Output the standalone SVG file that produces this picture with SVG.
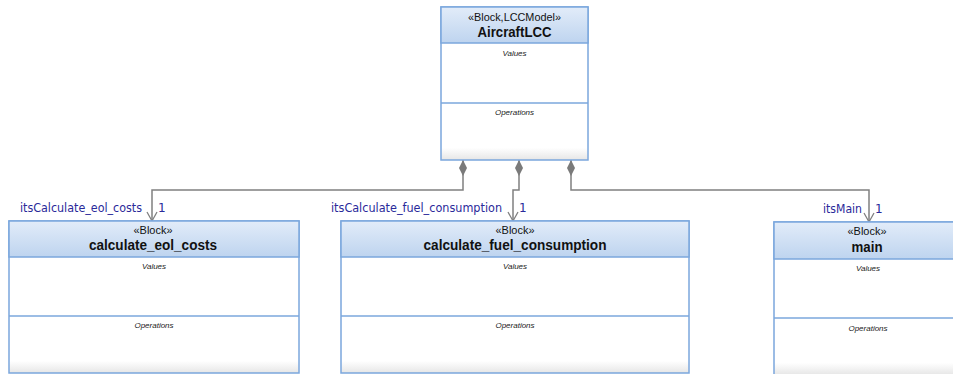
<svg xmlns="http://www.w3.org/2000/svg" width="953" height="374" viewBox="0 0 953 374">
  <defs>
    <linearGradient id="hdr" x1="0" y1="0" x2="0" y2="1">
      <stop offset="0" stop-color="#e2ecf9"/>
      <stop offset="1" stop-color="#bed4ef"/>
    </linearGradient>
    <linearGradient id="ops" x1="0" y1="0" x2="0" y2="1">
      <stop offset="0" stop-color="#ffffff"/>
      <stop offset="0.92" stop-color="#ffffff"/>
      <stop offset="1" stop-color="#e6e6e6"/>
    </linearGradient>
    <marker id="diamond" markerWidth="18" markerHeight="10" refX="0" refY="5" orient="auto" markerUnits="userSpaceOnUse" viewBox="0 0 18 10">
      <path d="M0,5 L8,1 L16,5 L8,9 Z" fill="#7a7a7a"/>
    </marker>
    <marker id="open" markerWidth="12" markerHeight="12" refX="10" refY="6" orient="auto" markerUnits="userSpaceOnUse" viewBox="0 0 12 12">
      <path d="M1,1 L10,6 L1,11" fill="none" stroke="#808080" stroke-width="1.3"/>
    </marker>
  </defs>
  <style>
    .box { fill: #ffffff; stroke: #7ba7dd; stroke-width: 1.5; }
    .hdr { fill: url(#hdr); stroke: #7ba7dd; stroke-width: 1.5; }
    .ops { fill: url(#ops); stroke: #7ba7dd; stroke-width: 1.5; }
    .div { stroke: #7ba7dd; stroke-width: 1.5; }
    .st { font-family: "Liberation Sans", Arial, sans-serif; font-size: 11px; fill: #111; text-anchor: middle; }
    .nm { font-family: "Liberation Sans", Arial, sans-serif; font-size: 14px; font-weight: bold; fill: #111; text-anchor: middle; }
    .sec { font-family: "Liberation Sans", Arial, sans-serif; font-size: 8px; font-style: italic; fill: #222; text-anchor: middle; }
    .lbl { font-family: "DejaVu Sans", sans-serif; font-size: 12px; fill: #2a2a9a; }
    .conn { fill: none; stroke: #808080; stroke-width: 1.5; }
  </style>

  <!-- composition links: filled diamond at the whole, open arrow at the part -->
  <g id="connectors">
    <path class="conn" d="M463,160 L463,190 L152,190 L152,221" marker-start="url(#diamond)" marker-end="url(#open)"/>
    <path class="conn" d="M519,160 L519,190 L513,190 L513,221" marker-start="url(#diamond)" marker-end="url(#open)"/>
    <path class="conn" d="M571,160 L571,190 L869,190 L869,222" marker-start="url(#diamond)" marker-end="url(#open)"/>
    <text class="lbl" x="142" y="212" text-anchor="end" textLength="122" lengthAdjust="spacingAndGlyphs">itsCalculate_eol_costs</text>
    <text class="lbl" x="158" y="212">1</text>
    <text class="lbl" x="502" y="212" text-anchor="end" textLength="171" lengthAdjust="spacingAndGlyphs">itsCalculate_fuel_consumption</text>
    <text class="lbl" x="519" y="212">1</text>
    <text class="lbl" x="862" y="213" text-anchor="end" textLength="39" lengthAdjust="spacingAndGlyphs">itsMain</text>
    <text class="lbl" x="875" y="213">1</text>
  </g>

  <g id="AircraftLCC">
    <rect class="ops" x="441" y="7" width="147" height="153"/>
    <rect class="hdr" x="441" y="7" width="147" height="36"/>
    <line class="div" x1="441" y1="103" x2="588" y2="103"/>
    <text class="st" x="514.5" y="21" textLength="93" lengthAdjust="spacingAndGlyphs">«Block,LCCModel»</text>
    <text class="nm" x="514.5" y="37" textLength="74" lengthAdjust="spacingAndGlyphs">AircraftLCC</text>
    <text class="sec" x="514.5" y="56">Values</text>
    <text class="sec" x="514.5" y="115">Operations</text>
  </g>

  <g id="calculate_eol_costs">
    <rect class="ops" x="9" y="221" width="290" height="152"/>
    <rect class="hdr" x="9" y="221" width="290" height="36"/>
    <line class="div" x1="9" y1="316" x2="299" y2="316"/>
    <text class="st" x="153" y="234" textLength="39" lengthAdjust="spacingAndGlyphs">«Block»</text>
    <text class="nm" x="153" y="250" textLength="128" lengthAdjust="spacingAndGlyphs">calculate_eol_costs</text>
    <text class="sec" x="154" y="269">Values</text>
    <text class="sec" x="154" y="328">Operations</text>
  </g>

  <g id="calculate_fuel_consumption">
    <rect class="ops" x="341" y="221" width="348" height="152"/>
    <rect class="hdr" x="341" y="221" width="348" height="36"/>
    <line class="div" x1="341" y1="316" x2="689" y2="316"/>
    <text class="st" x="515" y="234" textLength="39" lengthAdjust="spacingAndGlyphs">«Block»</text>
    <text class="nm" x="515" y="250" textLength="183" lengthAdjust="spacingAndGlyphs">calculate_fuel_consumption</text>
    <text class="sec" x="515" y="269">Values</text>
    <text class="sec" x="515" y="328">Operations</text>
  </g>

  <g id="main">
    <rect class="ops" x="774" y="222" width="190" height="153"/>
    <rect class="hdr" x="774" y="222" width="190" height="37"/>
    <line class="div" x1="774" y1="318" x2="964" y2="318"/>
    <text class="st" x="867" y="235" textLength="39" lengthAdjust="spacingAndGlyphs">«Block»</text>
    <text class="nm" x="867" y="252" textLength="31" lengthAdjust="spacingAndGlyphs">main</text>
    <text class="sec" x="868" y="271">Values</text>
    <text class="sec" x="868" y="331">Operations</text>
  </g>
</svg>
